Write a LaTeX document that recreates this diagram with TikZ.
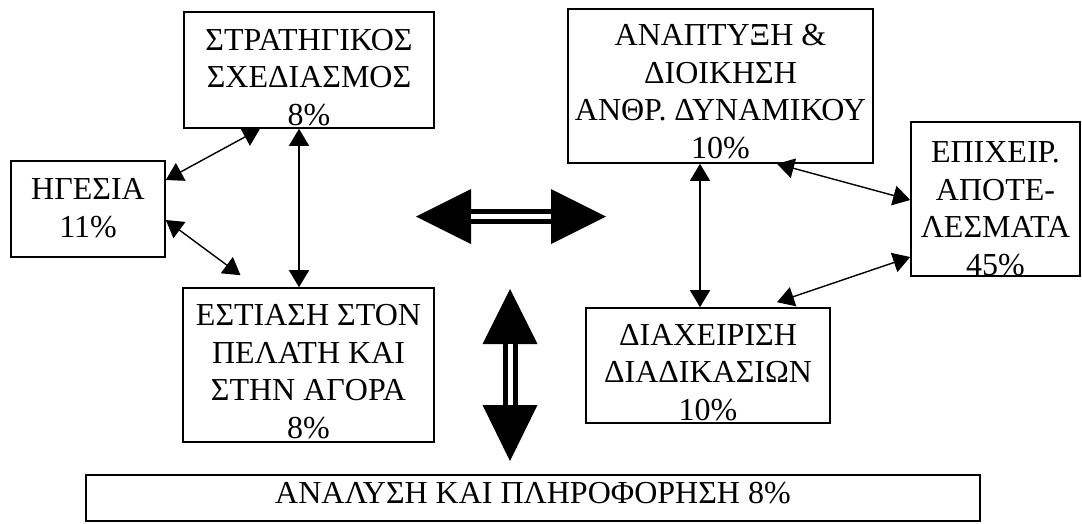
\documentclass[tikz,border=0pt]{standalone}
\usepackage{fontspec}
\setmainfont{Liberation Serif}
\usetikzlibrary{positioning,arrows.meta,calc}
\tikzset{
  box/.style={draw, line width=1.6pt, align=center, inner sep=0pt, text depth=0pt,
    font=\fontsize{32}{37.5}\selectfont},
  conn/.style={line width=1.4pt,
    {Triangle[length=17pt,width=20pt]}-{Triangle[length=17pt,width=20pt]}},
  bigshaft/.style={double, line width=5pt, double distance=5pt},
}
\begin{document}
\begin{tikzpicture}[x=1pt, y=-1pt]
  \useasboundingbox (0,0) rectangle (1082,523);
  \node[box, minimum width=250pt, minimum height=116pt, text height=110pt] (strat) at (309,70)
    {ΣΤΡΑΤΗΓΙΚΟΣ\\ΣΧΕΔΙΑΣΜΟΣ\\8\%};
  \node[box, minimum width=154pt, minimum height=96pt, text height=56pt] (hgs) at (88,209)
    {ΗΓΕΣΙΑ\\11\%};
  \node[box, minimum width=251pt, minimum height=154pt, text height=146pt] (pel) at (308.5,365)
    {ΕΣΤΙΑΣΗ ΣΤΟΝ\\ΠΕΛΑΤΗ ΚΑΙ\\ΣΤΗΝ ΑΓΟΡΑ\\8\%};
  \node[box, minimum width=305pt, minimum height=154pt, text height=144pt] (anth) at (720.5,86)
    {ΑΝΑΠΤΥΞΗ \&\\ΔΙΟΙΚΗΣΗ\\ΑΝΘΡ. ΔΥΝΑΜΙΚΟΥ\\10\%};
  \node[box, minimum width=169pt, minimum height=154pt, text height=152pt] (apot) at (995.5,199)
    {ΕΠΙΧΕΙΡ.\\ΑΠΟΤΕ-\\ΛΕΣΜΑΤΑ\\45\%};
  \node[box, minimum width=244pt, minimum height=115pt, text height=109pt] (diad) at (708,365.5)
    {ΔΙΑΧΕΙΡΙΣΗ\\ΔΙΑΔΙΚΑΣΙΩΝ\\10\%};
  \node[box, minimum width=894pt, minimum height=46pt, text height=10pt] (anal) at (533,498)
    {ΑΝΑΛΥΣΗ ΚΑΙ ΠΛΗΡΟΦΟΡΗΣΗ 8\%};

  \coordinate (pelin) at ([xshift=-68pt,yshift=12pt]pel.north);
  \coordinate (diadin) at ([xshift=69pt,yshift=5pt]diad.north);
  \draw[conn] ([yshift=29pt]hgs.east) -- ([xshift=-49pt]strat.south);
  \draw[conn] ([yshift=-11pt]hgs.east) -- (pelin);
  \draw[conn] ([xshift=-10pt]strat.south) -- ([xshift=-9.5pt]pel.north);
  \draw[conn] ([xshift=-20.5pt]anth.south) -- ([xshift=-8pt]diad.north);
  \draw[conn] ([xshift=56.5pt]anth.south) -- ([yshift=-1pt]apot.west);
  \draw[conn] (diadin) -- ([yshift=-58pt]apot.west);

  \fill (416,216.5) -- (471,189) -- (471,244) -- cycle;
  \fill (606,216.5) -- (551,189) -- (551,244) -- cycle;
  \draw[bigshaft] (471,216.5) -- (551,216.5);
  \fill (510,289) -- (482.5,344) -- (537.5,344) -- cycle;
  \fill (510,461) -- (482.5,405) -- (537.5,405) -- cycle;
  \draw[bigshaft] (510,344) -- (510,405);
\end{tikzpicture}
\end{document}
